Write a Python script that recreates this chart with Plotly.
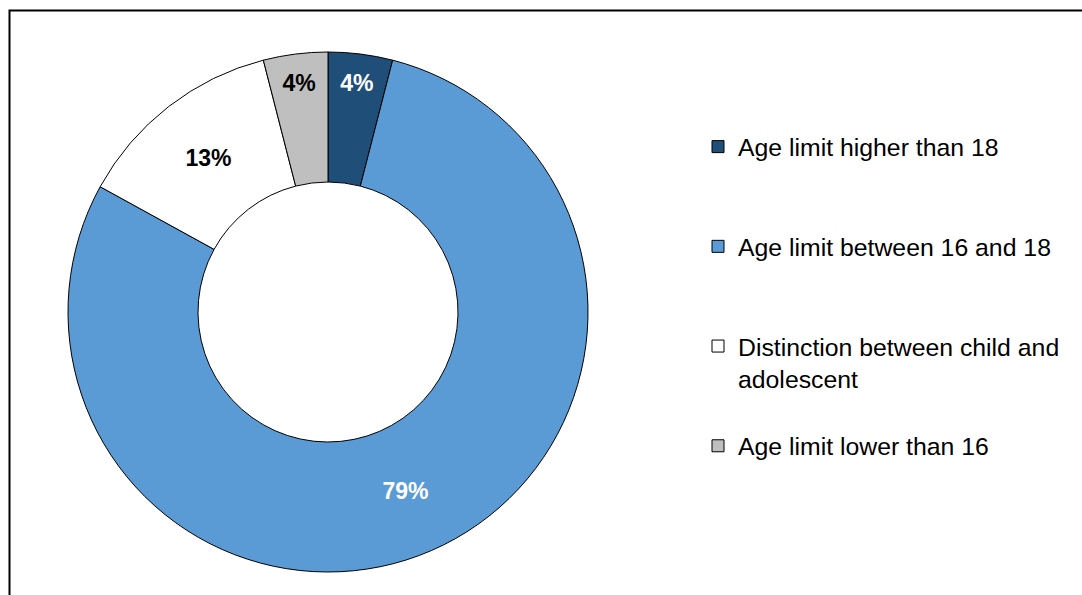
import plotly.graph_objects as go

# Data
categories = [
    "Age limit higher than 18",
    "Age limit between 16 and 18",
    "Distinction between child and<br>adolescent",
    "Age limit lower than 16",
]
values = [4, 79, 13, 4]
colors = ["#1F4E79", "#5B9BD5", "#FFFFFF", "#BFBFBF"]
text_colors = ["#FFFFFF", "#FFFFFF", "#000000", "#000000"]

W, H = 1082, 595

# legend spacing: pad labels with blank lines so entries are evenly spread
pad = ["<br> <br> ", "<br> <br> ", "<br> ", ""]
legend_labels = [c + p for c, p in zip(categories, pad)]

fig = go.Figure()
fig.add_trace(go.Pie(
    labels=legend_labels,
    values=values,
    sort=False,
    direction="clockwise",
    rotation=0,
    hole=0.5,
    marker=dict(colors=colors, line=dict(color="#000000", width=1)),
    texttemplate="%{percent:.0%}",
    textposition="inside",
    insidetextorientation="horizontal",
    textfont=dict(family="Liberation Sans, Arial, sans-serif", size=23, color=text_colors, weight="bold"),
    domain=dict(x=[68 / W, 588 / W], y=[1 - 572 / H, 1 - 52 / H]),
    hoverinfo="skip",
))

fig.update_layout(
    width=W, height=H,
    margin=dict(l=0, r=0, t=0, b=0),
    paper_bgcolor="#FFFFFF",
    plot_bgcolor="#FFFFFF",
    font=dict(family="Liberation Sans, Arial, sans-serif", color="#000000"),
    showlegend=True,
    legend=dict(
        x=698 / W, y=1 - 124 / H, xanchor="left", yanchor="top",
        font=dict(size=24.8, color="#000000"),
        valign="top",
        bgcolor="rgba(0,0,0,0)",
    ),
    shapes=[dict(
        type="rect", xref="paper", yref="paper",
        x0=9.5 / W, x1=1.05, y0=-0.05, y1=1 - 10.5 / H,
        line=dict(color="#000000", width=2), fillcolor="rgba(0,0,0,0)",
        layer="above",
    )],
)

fig.write_html("out.html", config={"displayModeBar": False},
               post_script="document.body.style.margin='0';")
